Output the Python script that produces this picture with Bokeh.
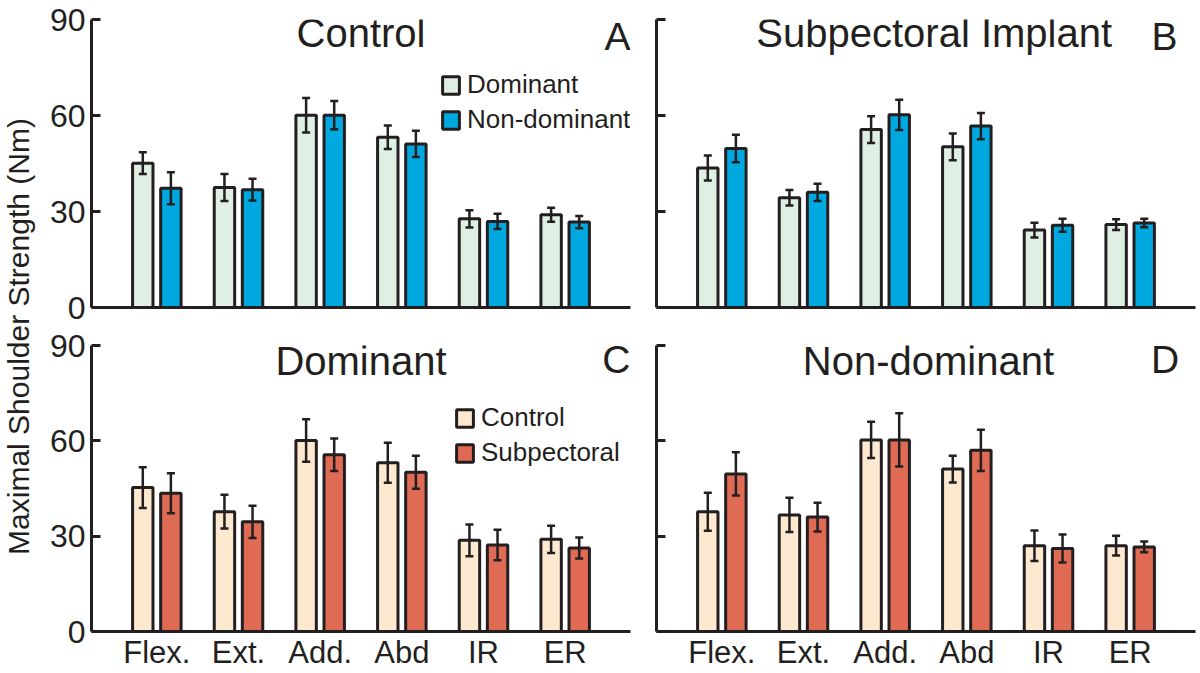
import numpy as np
from bokeh.plotting import figure
from bokeh.models import (Range1d, FixedTicker, ColumnDataSource, Whisker, TeeHead,
                          Legend, Label)
from bokeh.layouts import row, column
from bokeh.embed import file_html
from bokeh.resources import INLINE

# ---------------- data ----------------
categories = ["Flex.", "Ext.", "Add.", "Abd", "IR", "ER"]
yticks = [0, 30, 60, 90]

# Panel A: Control group, Dominant vs Non-dominant
ctrl_dom = [45.1, 37.5, 60.1, 53.2, 27.7, 29.0]
ctrl_dom_err = [3.4, 4.2, 5.4, 3.7, 2.7, 2.2]
ctrl_nondom = [37.3, 36.8, 60.1, 51.1, 26.9, 26.7]
ctrl_nondom_err = [5.0, 3.4, 4.4, 4.1, 2.4, 1.9]

# Panel B: Subpectoral implant, Dominant vs Non-dominant
sub_dom = [43.6, 34.3, 55.6, 50.2, 24.2, 25.9]
sub_dom_err = [3.9, 2.4, 4.2, 4.2, 2.3, 1.7]
sub_nondom = [49.7, 36.0, 60.2, 56.7, 25.7, 26.4]
sub_nondom_err = [4.3, 2.7, 4.7, 4.1, 2.0, 1.3]

# Panel C: Dominant side, Control vs Subpectoral
dom_ctrl = [45.3, 37.7, 60.1, 53.1, 28.7, 29.0]
dom_ctrl_err = [6.4, 5.3, 6.7, 6.3, 5.0, 4.3]
dom_sub = [43.5, 34.5, 55.6, 50.1, 27.2, 26.3]
dom_sub_err = [6.3, 5.1, 5.1, 5.2, 4.8, 3.3]

# Panel D: Non-dominant side, Control vs Subpectoral
nd_ctrl = [37.7, 36.7, 60.3, 51.1, 27.0, 27.0]
nd_ctrl_err = [6.0, 5.4, 5.7, 4.2, 4.8, 3.1]
nd_sub = [49.6, 36.0, 60.3, 57.0, 26.1, 26.6]
nd_sub_err = [6.8, 4.5, 8.4, 6.5, 4.4, 1.7]

# ---------------- style ----------------
FONT = "Liberation Sans"
INK = "#231f20"
GREEN = "#e0efe3"
BLUE = "#00a8e0"
PEACH = "#fde8d0"
RED = "#e06b55"

OFF = 0.172
BW = 0.25
FRAME_H = 288
FRAME_W = 539


def panel(title, letter, s1, e1, s2, e2, c1, c2, names, left_labels, bottom_labels,
          legend_pos, title_x, letter_x, title_y, letter_y):
    if left_labels:
        bl, br = 55, 9
    else:
        bl, br = 17, 3
    if bottom_labels:
        bt, bb = 19, 39
    else:
        bt, bb = 19, 19
    p = figure(width=bl + FRAME_W + br, height=bt + FRAME_H + bb,
               x_range=Range1d(0.2, 6.8), y_range=Range1d(0, 90),
               output_backend="svg", toolbar_location=None,
               min_border_left=bl, min_border_right=br, min_border_top=bt,
               min_border_bottom=bb)
    p.outline_line_color = None
    p.grid.visible = False

    xs = np.arange(1, len(categories) + 1)
    s1 = np.array(s1); e1 = np.array(e1); s2 = np.array(s2); e2 = np.array(e2)
    src1 = ColumnDataSource(dict(x=xs - OFF, top=s1, upper=s1 + e1, lower=s1 - e1))
    src2 = ColumnDataSource(dict(x=xs + OFF, top=s2, upper=s2 + e2, lower=s2 - e2))
    r1 = p.vbar(x="x", top="top", bottom=0, width=BW, source=src1, fill_color=c1,
                line_color=INK, line_width=3)
    r2 = p.vbar(x="x", top="top", bottom=0, width=BW, source=src2, fill_color=c2,
                line_color=INK, line_width=3)
    for src in (src1, src2):
        w = Whisker(source=src, base="x", upper="upper", lower="lower",
                    line_color=INK, line_width=2.5, level="overlay",
                    upper_head=TeeHead(size=8, line_color=INK, line_width=2.5),
                    lower_head=TeeHead(size=8, line_color=INK, line_width=2.5))
        p.add_layout(w)

    # x axis
    if bottom_labels:
        p.xaxis.ticker = FixedTicker(ticks=[int(v) for v in xs])
        p.xaxis.major_label_overrides = {int(v): c for v, c in zip(xs, categories)}
    else:
        p.xaxis.ticker = FixedTicker(ticks=[])
    p.xaxis.major_tick_in = 0
    p.xaxis.major_tick_out = 0
    p.xaxis.minor_tick_in = 0
    p.xaxis.minor_tick_out = 0
    p.xaxis.axis_line_width = 3
    p.xaxis.axis_line_color = INK
    p.xaxis.major_label_standoff = 3
    p.xaxis.major_label_text_font = FONT
    p.xaxis.major_label_text_color = INK
    p.xaxis.major_label_text_font_size = "31px"

    # y axis
    p.yaxis.ticker = FixedTicker(ticks=yticks)
    if not left_labels:
        p.yaxis.major_label_overrides = {t: "" for t in yticks}
    p.yaxis.major_tick_in = 9
    p.yaxis.major_tick_out = 0
    p.yaxis.minor_tick_in = 0
    p.yaxis.minor_tick_out = 0
    p.yaxis.axis_line_width = 3
    p.yaxis.axis_line_color = INK
    p.yaxis.major_tick_line_width = 3
    p.yaxis.major_tick_line_color = INK
    p.yaxis.major_label_standoff = 6
    p.yaxis.major_label_text_font = FONT
    p.yaxis.major_label_text_color = INK
    p.yaxis.major_label_text_font_size = "32px"

    p.add_layout(Label(x=title_x, y=title_y, text=title, text_align="center",
                       text_baseline="middle", text_font=FONT, text_font_size="40px",
                       text_color=INK))
    p.add_layout(Label(x=letter_x, y=letter_y, text=letter, text_align="right",
                       text_baseline="middle", text_font=FONT, text_font_size="39px",
                       text_color=INK))
    if names:
        leg = Legend(items=[(names[0], [r1]), (names[1], [r2])], location=legend_pos,
                     padding=0, margin=0, spacing=4, glyph_height=22, glyph_width=21,
                     label_height=22, label_standoff=6, label_text_font=FONT,
                     label_text_font_size="26px", label_text_color=INK,
                     border_line_color=None, background_fill_alpha=0)
        p.add_layout(leg)
    return p


pA = panel("Control", "A", ctrl_dom, ctrl_dom_err, ctrl_nondom, ctrl_nondom_err,
           GREEN, BLUE, ["Dominant", "Non-dominant"], True, False, (349, 172),
           3.5, 6.8, 85.8, 84.7)
pB = panel("Subpectoral Implant", "B", sub_dom, sub_dom_err, sub_nondom, sub_nondom_err,
           GREEN, BLUE, None, False, False, None, 3.6, 6.58, 85.8, 84.7)
pC = panel("Dominant", "C", dom_ctrl, dom_ctrl_err, dom_sub, dom_sub_err,
           PEACH, RED, ["Control", "Subpectoral"], True, True, (363, 163),
           3.5, 6.8, 85.0, 85.5)
pD = panel("Non-dominant", "D", nd_ctrl, nd_ctrl_err, nd_sub, nd_sub_err,
           PEACH, RED, None, False, True, None, 3.53, 6.6, 85.0, 85.5)

lf = figure(width=36, height=pA.height + pC.height, x_range=Range1d(0, 1),
            y_range=Range1d(0, 1), output_backend="svg", toolbar_location=None,
            x_axis_type=None, y_axis_type=None, min_border=0)
lf.grid.visible = False
lf.outline_line_color = None
lf.add_layout(Label(x=0.5, y=0.5, text="Maximal Shoulder Strength (Nm)",
                    angle=np.pi / 2, text_align="center", text_baseline="middle",
                    text_font=FONT, text_font_size="30px", text_color=INK))

layout = row(lf, column(row(pA, pB), row(pC, pD)))
open("out.html", "w").write(file_html(layout, INLINE))
